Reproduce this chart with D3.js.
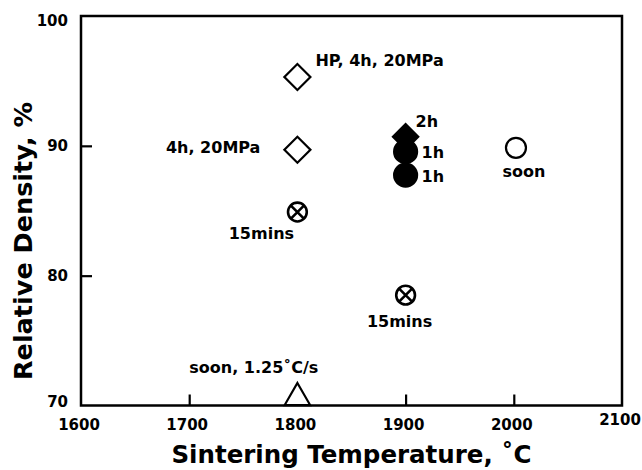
<!DOCTYPE html>
<html>
<head>
<meta charset="utf-8">
<script src="https://cdn.jsdelivr.net/npm/d3@7"></script>
<style>
  body { margin: 0; background: #fff; }
  text { font-family: "DejaVu Sans", sans-serif; font-weight: bold; fill: #000; }
</style>
</head>
<body>
<div id="chart"></div>
<script>
// sintering temperature (C) and relative density (%) of each sample
let temps   = [1800, 1800, 1800, 1900, 1900, 1900, 1900, 2002, 1800];
let density = [95.3, 89.7, 84.9, 90.7, 89.55, 87.75, 78.5, 89.85, 70.6];
let kinds   = ['diamondOpen', 'diamondOpen', 'circleCross', 'diamondFilled', 'circleFilled',
               'circleFilled', 'circleCross', 'circleOpen', 'triangleOpen'];
let notes   = ['HP, 4h, 20MPa', '4h, 20MPa', '15mins', '2h', '1h', '1h', '15mins', 'soon', 'soon, 1.25˚C/s'];

let xTicks = [1600, 1700, 1800, 1900, 2000, 2100];
let yTicks = [70, 80, 90, 100];

// where each note sits relative to its marker: [dx, dy, anchor]
let notePlace = [[18, -11, 'start'], [-37, 3, 'end'], [-36, 27, 'middle'], [10, -10, 'start'],
                 [16, 6, 'start'], [16, 7, 'start'], [-6, 32, 'middle'], [8, 29, 'middle'], [21, -25, 'end']];

const W = 642, H = 470;
const svg = d3.select('#chart').append('svg').attr('width', W).attr('height', H);

const x = d3.scaleLinear().domain([1600, 2100]).range([81, 622]);
const y = d3.scaleLinear().domain([70, 100]).range([405.5, 16]);

// inner ticks
const g = svg.append('g');
g.append('g').attr('transform', `translate(0,${y(70)})`)
  .call(d3.axisBottom(x).tickValues(xTicks.filter(t => t > 1600 && t < 2100)).tickSize(-11).tickFormat(''))
  .call(a => a.select('.domain').remove())
  .call(a => a.selectAll('line').attr('stroke', '#000').attr('stroke-width', 2.2));
g.append('g').attr('transform', `translate(${x(1600)},0)`)
  .call(d3.axisLeft(y).tickValues(yTicks.filter(t => t > 70 && t < 100)).tickSize(-11).tickFormat(''))
  .call(a => a.select('.domain').remove())
  .call(a => a.selectAll('line').attr('stroke', '#000').attr('stroke-width', 2.2));

// frame
svg.append('rect')
  .attr('x', x(1600)).attr('y', y(100))
  .attr('width', x(2100) - x(1600)).attr('height', y(70) - y(100))
  .attr('fill', 'none').attr('stroke', '#000').attr('stroke-width', 2.5);

// tick labels (nudged like the original at the corners)
let yNudge = {100: 5, 70: -4};
svg.append('g').selectAll('text').data(yTicks).join('text')
  .attr('x', 68).attr('y', d => y(d) + (yNudge[d] || 0))
  .attr('dy', '0.36em').attr('text-anchor', 'end').style('font-size', '15px')
  .text(d => d);
svg.append('g').selectAll('text').data(xTicks).join('text')
  .attr('x', d => x(d) - 2).attr('y', d => d === 2100 ? 425 : 429.5)
  .attr('text-anchor', 'middle').style('font-size', '15px')
  .text(d => d);

// axis titles
svg.append('text').attr('x', (x(1600) + x(2100)) / 2).attr('y', 463)
  .attr('text-anchor', 'middle').style('font-size', '24.5px')
  .text('Sintering Temperature, ˚C');
svg.append('text').attr('transform', 'translate(32,241) rotate(-90)')
  .attr('text-anchor', 'middle').style('font-size', '25.5px')
  .text('Relative Density, %');

// markers
let pts = temps.map((t, i) => ({t: t, d: density[i], kind: kinds[i], note: notes[i], place: notePlace[i]}));
const sym = {
  diamondOpen:   {type: d3.symbolSquare, size: 340, rot: 45, fill: '#fff'},
  diamondFilled: {type: d3.symbolSquare, size: 320, rot: 45, fill: '#000'},
  circleOpen:    {type: d3.symbolCircle, size: Math.PI * 100, rot: 0, fill: '#fff'},
  circleFilled:  {type: d3.symbolCircle, size: Math.PI * 132, rot: 0, fill: '#000'},
  circleCross:   {type: d3.symbolCircle, size: Math.PI * 88, rot: 0, fill: '#fff'},
  triangleOpen:  {type: d3.symbolTriangle, size: 280, rot: 0, fill: '#fff'}
};

const mk = svg.append('g').selectAll('g').data(pts).join('g')
  .attr('transform', d => `translate(${x(d.t)},${y(d.d)})`);
mk.append('path')
  .attr('d', d => d3.symbol().type(sym[d.kind].type).size(sym[d.kind].size)())
  .attr('transform', d => `rotate(${sym[d.kind].rot})`)
  .attr('fill', d => sym[d.kind].fill)
  .attr('stroke', '#000').attr('stroke-width', d => d.kind === 'circleCross' ? 2.6 : 2.2);
mk.filter(d => d.kind === 'circleCross').append('path')
  .attr('d', 'M-6.5,-6.5L6.5,6.5M-6.5,6.5L6.5,-6.5')
  .attr('stroke', '#000').attr('stroke-width', 2.6);

// notes
mk.append('text')
  .attr('x', d => d.place[0]).attr('y', d => d.place[1])
  .attr('text-anchor', d => d.place[2]).style('font-size', '16px')
  .text(d => d.note);
</script>
</body>
</html>
